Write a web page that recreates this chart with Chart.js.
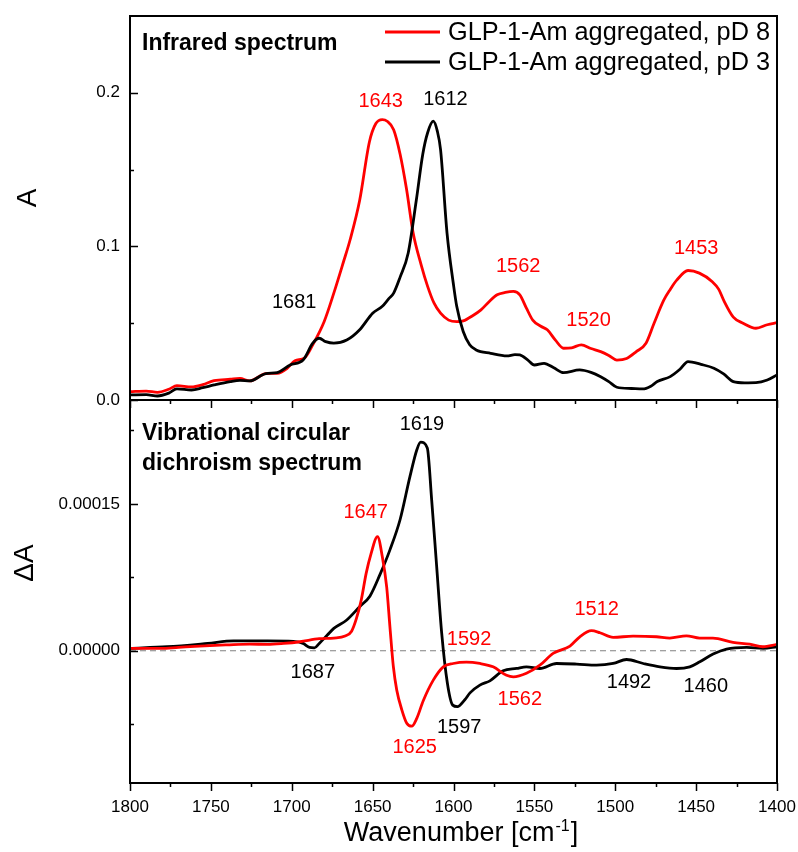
<!DOCTYPE html>
<html>
<head>
<meta charset="utf-8">
<script src="https://cdn.jsdelivr.net/npm/chart.js@4.4.0/dist/chart.umd.min.js"></script>
<style>
  html, body { margin: 0; padding: 0; background: #fff; }
  #wrap { position: relative; width: 798px; height: 852px; }
  canvas { position: absolute; left: 0; }
  #irChart { top: 0; }
  #vcdChart { top: 400px; }
</style>
</head>
<body>
<div id="wrap">
  <canvas id="irChart" width="798" height="412"></canvas>
  <canvas id="vcdChart" width="798" height="452"></canvas>
</div>
<script>
// series names and colours
const seriesNames = ['GLP-1-Am aggregated, pD 8', 'GLP-1-Am aggregated, pD 3'];
const seriesColors = ['#ff0000', '#000000'];

// infrared spectrum, pD 8
const irWn8 = [1800, 1790, 1783, 1776, 1771, 1762, 1755, 1748, 1738, 1732, 1726, 1716, 1709, 1703, 1698, 1692, 1687, 1680, 1674, 1668, 1664, 1658, 1652, 1648, 1644, 1641, 1637, 1633, 1629, 1625, 1620, 1616, 1612, 1608, 1603, 1598, 1594, 1588, 1583, 1578, 1573, 1568, 1563, 1559, 1555, 1551, 1546, 1542, 1537, 1532, 1527, 1521, 1515, 1509, 1504, 1499, 1493, 1487, 1481, 1476, 1470, 1466, 1462, 1455, 1448, 1440, 1436, 1433, 1427, 1421, 1413, 1406, 1400];
const irA8 = [0.0054, 0.0058, 0.0050, 0.0070, 0.0093, 0.0085, 0.0100, 0.0126, 0.0135, 0.0140, 0.0124, 0.0172, 0.0174, 0.0205, 0.0255, 0.0275, 0.0360, 0.0510, 0.0696, 0.0900, 0.1040, 0.1300, 0.1680, 0.1800, 0.1826, 0.1815, 0.1760, 0.1600, 0.1370, 0.1090, 0.0880, 0.0740, 0.0630, 0.0565, 0.0520, 0.0510, 0.0515, 0.0550, 0.0587, 0.0640, 0.0685, 0.0700, 0.0707, 0.0685, 0.0600, 0.0520, 0.0480, 0.0457, 0.0390, 0.0337, 0.0340, 0.0359, 0.0335, 0.0315, 0.0290, 0.0260, 0.0270, 0.0315, 0.0370, 0.0500, 0.0650, 0.0720, 0.0780, 0.0843, 0.0826, 0.0770, 0.0720, 0.0650, 0.0540, 0.0500, 0.0467, 0.0490, 0.0504];

// infrared spectrum, pD 3
const irWn3 = [1800, 1790, 1783, 1776, 1771, 1762, 1755, 1748, 1738, 1732, 1726, 1716, 1709, 1701, 1693, 1687, 1683, 1679, 1674, 1666, 1658, 1650, 1644, 1640, 1637, 1633, 1628, 1623, 1619, 1616, 1612.5, 1610, 1608, 1604, 1600, 1598, 1594, 1590, 1586, 1577, 1567, 1562, 1559, 1554, 1550, 1544, 1538, 1532, 1522, 1515, 1509, 1504, 1499, 1490, 1483, 1478, 1474, 1466, 1460, 1455, 1447, 1439, 1433, 1427, 1420, 1413, 1406, 1400];
const irA3 = [0.0033, 0.0035, 0.0026, 0.0045, 0.0072, 0.0065, 0.0080, 0.0098, 0.0120, 0.0128, 0.0124, 0.0172, 0.0178, 0.0228, 0.0260, 0.0370, 0.0402, 0.0380, 0.0370, 0.0390, 0.0457, 0.0565, 0.0610, 0.0660, 0.0696, 0.0800, 0.0957, 0.1300, 0.1600, 0.1740, 0.1815, 0.1750, 0.1630, 0.1087, 0.0750, 0.0610, 0.0446, 0.0360, 0.0326, 0.0304, 0.0287, 0.0295, 0.0293, 0.0260, 0.0228, 0.0239, 0.0210, 0.0178, 0.0196, 0.0180, 0.0152, 0.0120, 0.0083, 0.0075, 0.0072, 0.0090, 0.0120, 0.0152, 0.0200, 0.0250, 0.0232, 0.0207, 0.0170, 0.0120, 0.0112, 0.0113, 0.0130, 0.0163];

// VCD spectrum, pD 8
const vcdWn8 = [1800, 1781, 1770, 1757, 1740, 1726, 1715, 1705, 1695, 1683, 1674, 1667, 1663, 1660, 1657, 1654, 1651, 1647, 1644, 1641.3, 1639.3, 1637.2, 1635.1, 1632, 1628.9, 1625.8, 1622.7, 1618.7, 1612.5, 1606.3, 1600.2, 1592, 1583.7, 1575.5, 1567.2, 1563, 1554.9, 1546.6, 1538.4, 1528, 1521.9, 1514.7, 1509.5, 1501.3, 1489, 1474.5, 1466.3, 1456, 1447.8, 1439.6, 1427.2, 1416.9, 1408.7, 1400];
const vcdDA8 = [2.4e-6, 2.4e-6, 3.5e-6, 4.8e-6, 6.0e-6, 6.8e-6, 6.5e-6, 7.5e-6, 9.2e-6, 1.23e-5, 1.3e-5, 1.5e-5, 2.0e-5, 3.3e-5, 5.2e-5, 7.9e-5, 9.9e-5, 1.166e-4, 9.6e-5, 6.5e-5, 2.45e-5, -1.6e-5, -4.0e-5, -6.0e-5, -7.4e-5, -7.7e-5, -6.9e-5, -5.1e-5, -3.0e-5, -1.64e-5, -1.3e-5, -1.16e-5, -1.3e-5, -1.64e-5, -2.5e-5, -2.66e-5, -2.3e-5, -1.47e-5, -2.7e-6, 4.8e-6, 1.43e-5, 2.05e-5, 1.84e-5, 1.36e-5, 1.5e-5, 1.43e-5, 1.3e-5, 1.53e-5, 1.3e-5, 1.3e-5, 8.5e-6, 6.8e-6, 4.1e-6, 6.5e-6];

// VCD spectrum, pD 3
const vcdWn3 = [1800, 1777, 1752, 1736, 1715, 1699, 1693, 1689, 1686, 1683, 1678, 1674, 1666, 1658, 1651.6, 1645.4, 1639.3, 1633, 1626.9, 1622.7, 1620.3, 1616.2, 1613.5, 1610.4, 1607.3, 1603.8, 1600.5, 1597.6, 1593, 1589.8, 1583.7, 1577.5, 1569.3, 1561, 1554.9, 1546.6, 1536.3, 1523.9, 1511.6, 1501.3, 1493, 1482.7, 1472.4, 1462.1, 1453.9, 1447.7, 1439.5, 1431.2, 1418.8, 1408.5, 1400];
const vcdDA3 = [2.4e-6, 4.1e-6, 7.5e-6, 1.0e-5, 1.0e-5, 9.5e-6, 7.5e-6, 3.4e-6, 3.0e-6, 7.5e-6, 1.6e-5, 2.28e-5, 3.14e-5, 4.5e-5, 5.6e-5, 7.8e-5, 1.03e-4, 1.34e-4, 1.78e-4, 2.05e-4, 2.13e-4, 2.07e-4, 1.54e-4, 8.6e-5, 1.8e-5, -3.3e-5, -5.55e-5, -5.7e-5, -5.0e-5, -4.3e-5, -3.51e-5, -3.07e-5, -2.05e-5, -1.81e-5, -1.64e-5, -1.81e-5, -1.3e-5, -1.36e-5, -1.47e-5, -1.3e-5, -8.9e-6, -1.3e-5, -1.64e-5, -1.81e-5, -1.64e-5, -1.12e-5, -3.4e-6, 1.7e-6, 3.4e-6, 2.4e-6, 4.1e-6];

// ticks
const xMajorTicks = [1800, 1750, 1700, 1650, 1600, 1550, 1500, 1450, 1400];
const xMinorTicks = [1775, 1725, 1675, 1625, 1575, 1525, 1475, 1425];
const irMajorTicks = [0, 0.1, 0.2];
const irMinorTicks = [0.05, 0.15];
const vcdMajorTicks = [0, 0.00015];
const vcdMinorTicks = [-0.000075, 0.000075, 0.000225];

// peak annotations: text, wavenumber, value, series index
const irPeakText = ['1643', '1612', '1681', '1562', '1520', '1453'];
const irPeakWn = [1645, 1605, 1698.5, 1560, 1516.5, 1450];
const irPeakVal = [0.1944, 0.1957, 0.0633, 0.0868, 0.0517, 0.0986];
const irPeakSeries = [0, 1, 1, 0, 0, 0];

const vcdPeakText = ['1619', '1647', '1687', '1625', '1597', '1592', '1562', '1512', '1492', '1460'];
const vcdPeakWn = [1619.5, 1654.3, 1687, 1624, 1596.5, 1590.4, 1559, 1511.5, 1491.5, 1444];
const vcdPeakVal = [2.305e-4, 1.415e-4, -2.25e-5, -9.9e-5, -7.85e-5, 1.2e-5, -4.94e-5, 4.18e-5, -3.25e-5, -3.6e-5];
const vcdPeakSeries = [1, 0, 1, 0, 1, 0, 0, 0, 1, 1];

const FONT = '"Liberation Sans", Arial, sans-serif';

function pts(xs, ys) {
  return xs.map((v, i) => ({ x: v, y: ys[i] }));
}

function isIn(list, v) {
  return list.some(m => Math.abs(m - v) < 1e-9);
}

function setTicks(major, minor) {
  return function (scale) {
    scale.ticks = major.concat(minor).sort((a, b) => a - b).map(v => ({ value: v }));
  };
}

// frame box and tick marks (x ticks outward, y ticks inward)
const frameTicks = {
  id: 'frameTicks',
  afterDraw(chart, args, opts) {
    const { ctx, chartArea: a, scales: { x, y } } = chart;
    ctx.save();
    ctx.strokeStyle = '#000';
    ctx.lineWidth = 1.5;
    ctx.beginPath();
    x.ticks.forEach(t => {
      const px = Math.round(x.getPixelForValue(t.value)) + 0.5;
      const len = isIn(xMajorTicks, t.value) ? 8 : 4;
      ctx.moveTo(px, a.bottom);
      ctx.lineTo(px, a.bottom + len);
    });
    y.ticks.forEach(t => {
      const py = Math.round(y.getPixelForValue(t.value)) + 0.5;
      const len = isIn(opts.yMajor, t.value) ? 8 : 4;
      ctx.moveTo(a.left, py);
      ctx.lineTo(a.left + len, py);
    });
    ctx.stroke();
    ctx.lineWidth = 2;
    ctx.strokeRect(a.left, a.top, a.right - a.left, a.bottom - a.top);
    ctx.restore();
  }
};

// peak wavenumber labels
const peakLabels = {
  id: 'peakLabels',
  afterDatasetsDraw(chart, args, opts) {
    const { ctx, scales: { x, y } } = chart;
    ctx.save();
    ctx.font = '20px ' + FONT;
    ctx.textAlign = 'center';
    ctx.textBaseline = 'middle';
    opts.text.forEach((s, i) => {
      ctx.fillStyle = seriesColors[opts.series[i]];
      ctx.fillText(s, x.getPixelForValue(opts.wn[i]), y.getPixelForValue(opts.val[i]));
    });
    ctx.restore();
  }
};

function yTitle(ctx, text, bx, cy) {
  ctx.save();
  ctx.translate(bx, cy);
  ctx.rotate(-Math.PI / 2);
  ctx.font = '28px ' + FONT;
  ctx.fillStyle = '#000';
  ctx.textAlign = 'center';
  ctx.textBaseline = 'alphabetic';
  ctx.fillText(text, 0, 0);
  ctx.restore();
}

// texts of the top panel: title, legend, y title
const irTexts = {
  id: 'irTexts',
  afterDraw(chart) {
    const ctx = chart.ctx;
    ctx.save();
    ctx.fillStyle = '#000';
    ctx.font = 'bold 23px ' + FONT;
    ctx.textBaseline = 'alphabetic';
    ctx.fillText('Infrared spectrum', 142, 50);
    ctx.font = '25.3px ' + FONT;
    ctx.textBaseline = 'middle';
    seriesNames.forEach((name, i) => {
      const ly = 32 + i * 30;
      ctx.strokeStyle = seriesColors[i];
      ctx.lineWidth = 2.8;
      ctx.beginPath();
      ctx.moveTo(385, ly);
      ctx.lineTo(440, ly);
      ctx.stroke();
      ctx.fillStyle = '#000';
      ctx.fillText(name, 448, ly + 1);
    });
    ctx.restore();
    yTitle(ctx, 'A', 36, 198);
  }
};

// texts of the bottom panel
const vcdTexts = {
  id: 'vcdTexts',
  afterDraw(chart) {
    const ctx = chart.ctx;
    ctx.save();
    ctx.fillStyle = '#000';
    ctx.font = 'bold 23px ' + FONT;
    ctx.textBaseline = 'alphabetic';
    ctx.fillText('Vibrational circular', 142, 40);
    ctx.fillText('dichroism spectrum', 142, 70);

    // x title with superscript
    const big = '27px ' + FONT, small = '16px ' + FONT;
    ctx.font = big;
    const w1 = ctx.measureText('Wavenumber [cm').width;
    const w3 = ctx.measureText(']').width;
    ctx.font = small;
    const w2 = ctx.measureText('-1').width;
    const sx = 460 - (w1 + w2 + w3) / 2;
    const base = 441;
    ctx.font = big;
    ctx.fillText('Wavenumber [cm', sx, base);
    ctx.font = small;
    ctx.fillText('-1', sx + w1 + 1, base - 10);
    ctx.font = big;
    ctx.fillText(']', sx + w1 + w2 + 2, base);
    ctx.restore();
    yTitle(ctx, '\u0394A', 33, 163);
  }
};

function lineSet(label, data, color, extra) {
  return Object.assign({
    label: label,
    data: data,
    borderColor: color,
    borderWidth: 2.8,
    pointRadius: 0,
    fill: false,
    cubicInterpolationMode: 'monotone'
  }, extra || {});
}

function xScale(showLabels, height) {
  return {
    type: 'linear',
    reverse: true,
    min: 1400,
    max: 1800,
    afterBuildTicks: setTicks(xMajorTicks, xMinorTicks),
    afterFit: s => {
      s.height = height;
      s.paddingLeft = 0; s.paddingRight = 0;
    },
    grid: { display: false, drawTicks: false },
    border: { display: false },
    ticks: {
      display: showLabels,
      autoSkip: false,
      maxRotation: 0,
      padding: 14,
      color: '#000',
      font: { family: FONT, size: 17 },
      callback: v => isIn(xMajorTicks, v) ? String(v) : ''
    }
  };
}

function yScale(min, max, major, minor, digits) {
  return {
    type: 'linear',
    min: min,
    max: max,
    afterBuildTicks: setTicks(major, minor),
    afterFit: s => {
      s.width = 130;
      s.paddingTop = 0; s.paddingBottom = 0;
    },
    grid: { display: false, drawTicks: false },
    border: { display: false },
    ticks: {
      padding: 10,
      color: '#000',
      font: { family: FONT, size: 17 },
      callback: v => isIn(major, v) ? Number(v).toFixed(digits) : ''
    }
  };
}

Chart.defaults.font.family = FONT;

// top panel: infrared
new Chart(document.getElementById('irChart'), {
  type: 'line',
  data: {
    datasets: [
      lineSet(seriesNames[1], pts(irWn3, irA3), seriesColors[1]),
      lineSet(seriesNames[0], pts(irWn8, irA8), seriesColors[0])
    ]
  },
  options: {
    responsive: false,
    animation: false,
    devicePixelRatio: 1,
    layout: { padding: { top: 16, right: 21, left: 0, bottom: 0 } },
    scales: {
      x: xScale(false, 12),
      y: yScale(0, 0.25, irMajorTicks, irMinorTicks, 1)
    },
    plugins: {
      legend: { display: false },
      tooltip: { enabled: false },
      frameTicks: { yMajor: irMajorTicks },
      peakLabels: { text: irPeakText, wn: irPeakWn, val: irPeakVal, series: irPeakSeries }
    }
  },
  plugins: [frameTicks, peakLabels, irTexts]
});

// bottom panel: VCD
new Chart(document.getElementById('vcdChart'), {
  type: 'line',
  data: {
    datasets: [
      lineSet(seriesNames[0], pts(vcdWn8, vcdDA8), seriesColors[0]),
      lineSet(seriesNames[1], pts(vcdWn3, vcdDA3), seriesColors[1]),
      lineSet('zero', pts([1800, 1400], [0, 0]), '#808080', { borderWidth: 1, borderDash: [6, 4], cubicInterpolationMode: 'default' })
    ]
  },
  options: {
    responsive: false,
    animation: false,
    devicePixelRatio: 1,
    layout: { padding: { top: 0, right: 21, left: 0, bottom: 0 } },
    scales: {
      x: xScale(true, 69),
      y: yScale(-0.000135, 0.000256, vcdMajorTicks, vcdMinorTicks, 5)
    },
    plugins: {
      legend: { display: false },
      tooltip: { enabled: false },
      frameTicks: { yMajor: vcdMajorTicks },
      peakLabels: { text: vcdPeakText, wn: vcdPeakWn, val: vcdPeakVal, series: vcdPeakSeries }
    }
  },
  plugins: [frameTicks, peakLabels, vcdTexts]
});
</script>
</body>
</html>
